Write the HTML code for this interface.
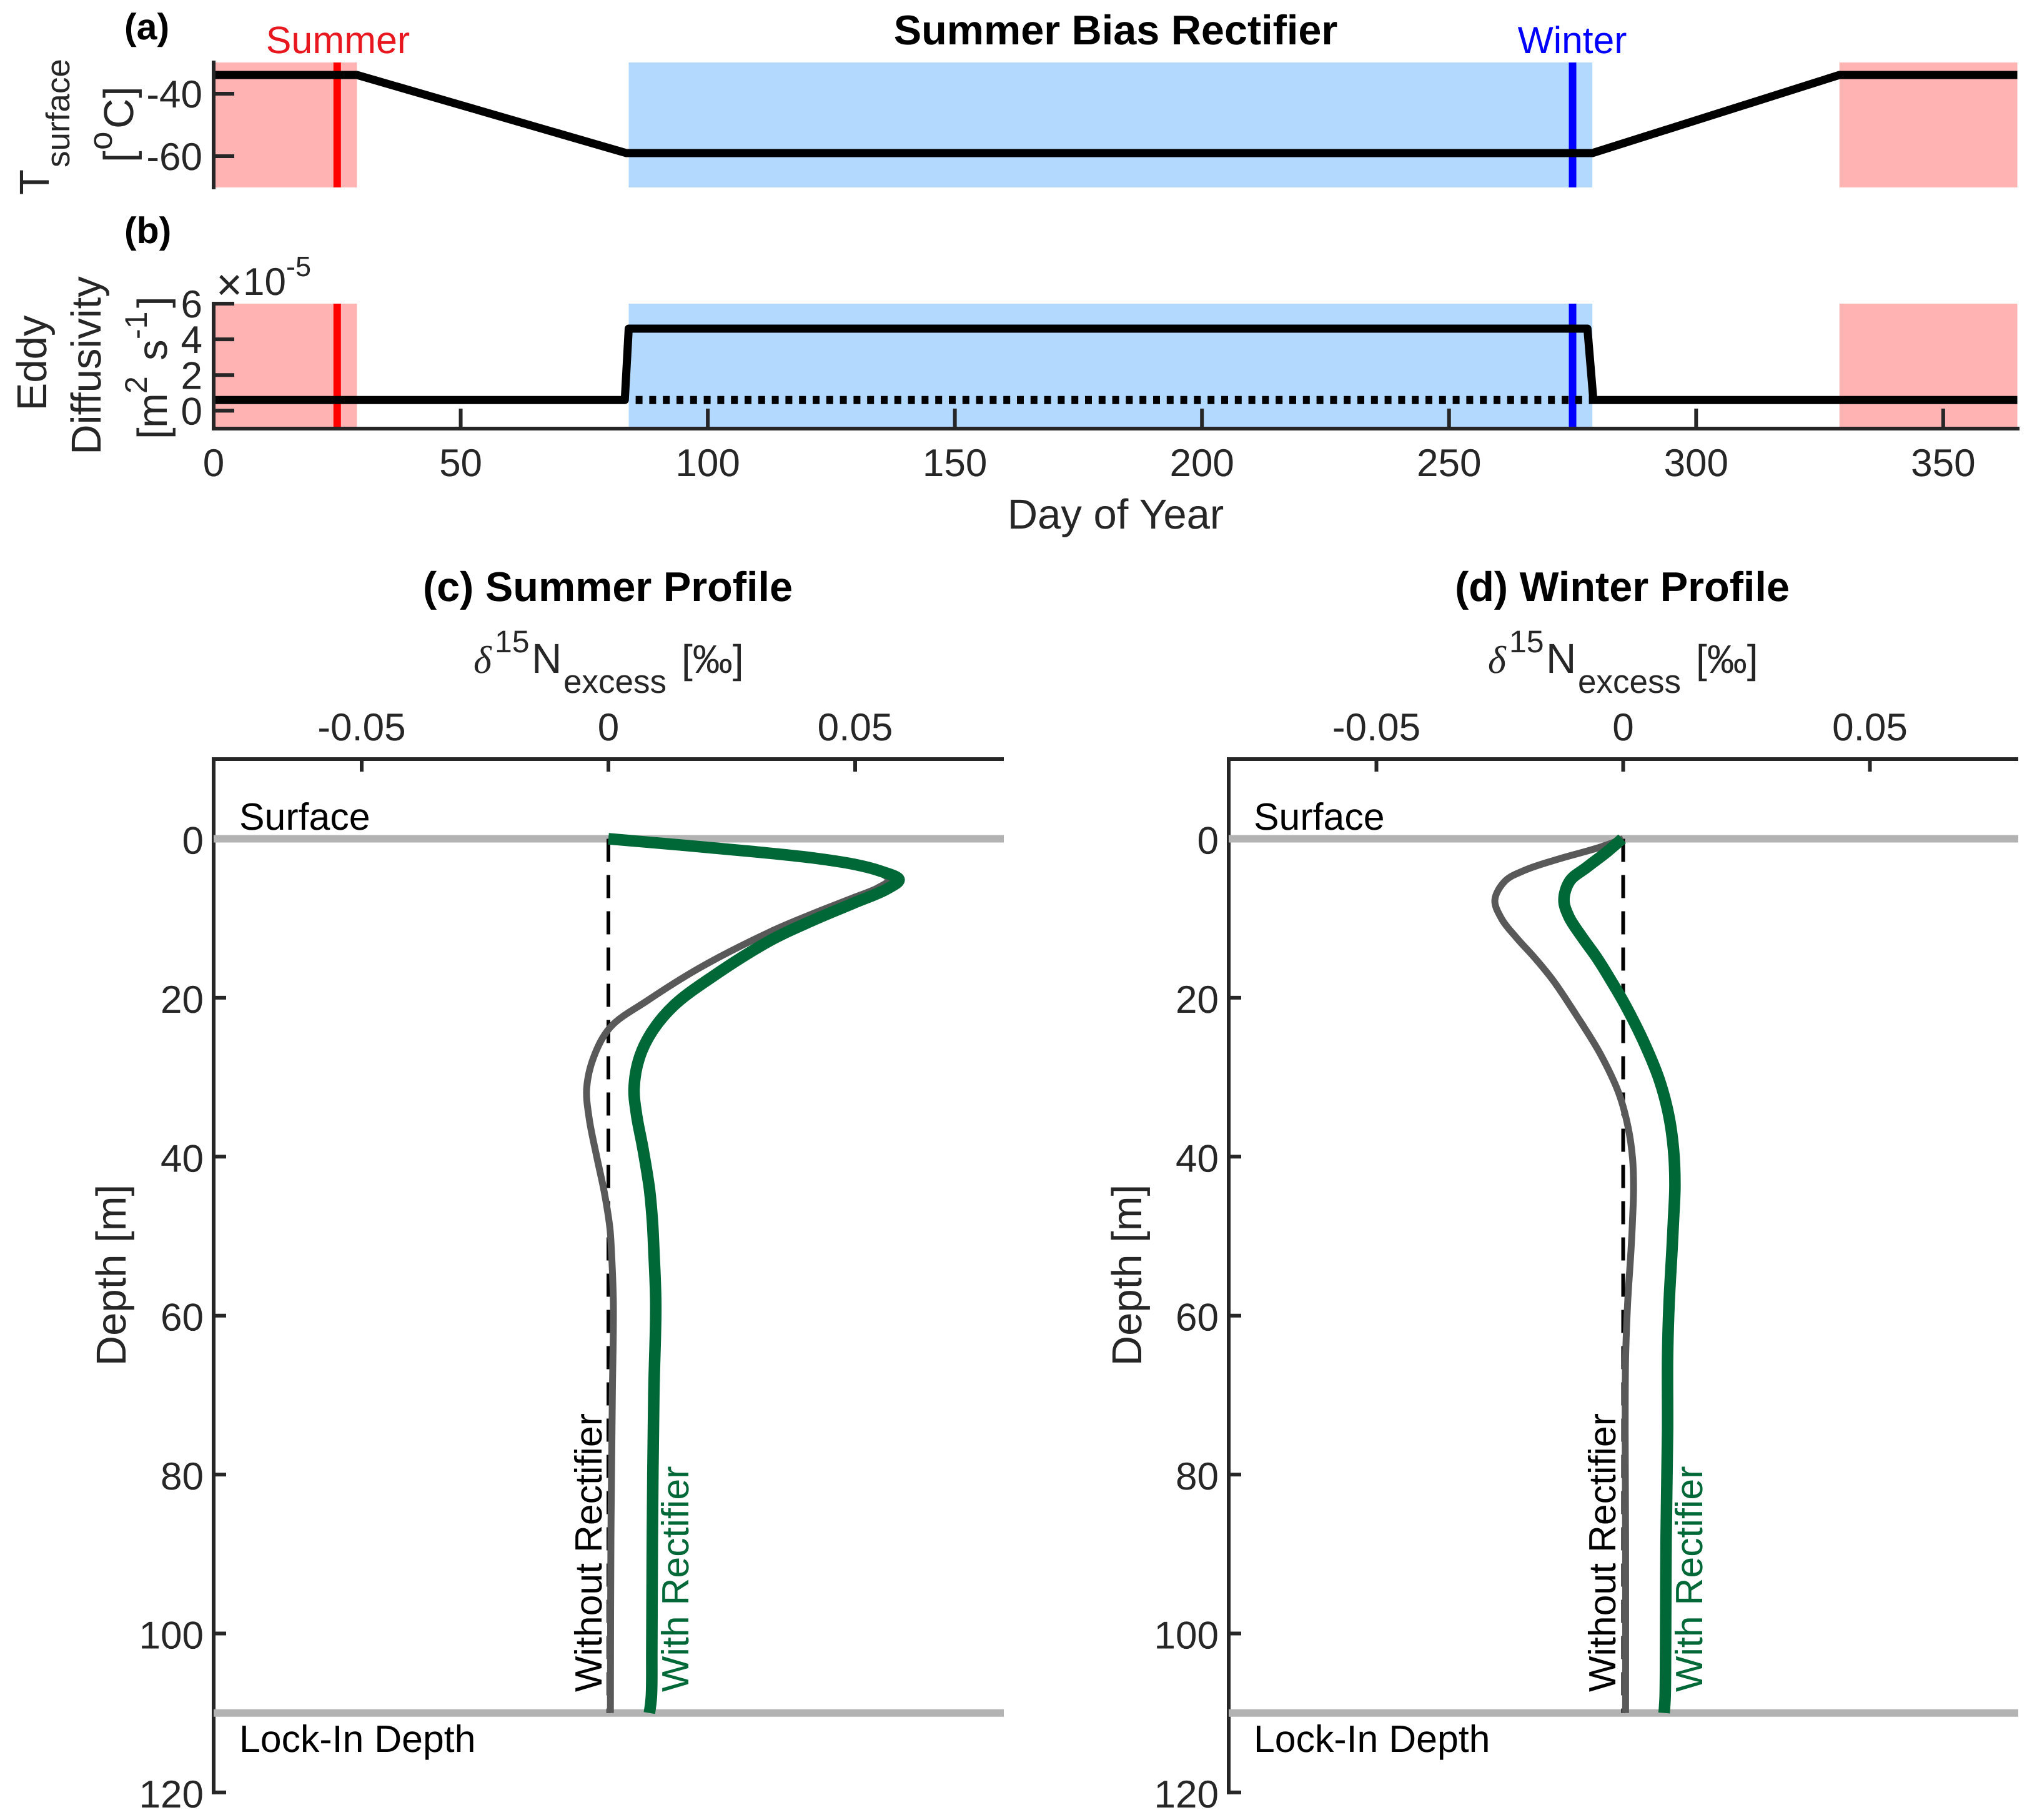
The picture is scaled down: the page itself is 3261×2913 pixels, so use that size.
<!DOCTYPE html>
<html lang="en">
<head>
<meta charset="utf-8">
<title>Summer Bias Rectifier</title>
<style>
html,body{margin:0;padding:0;background:#fff;width:3261px;height:2913px;overflow:hidden}
svg{display:block;position:absolute;left:0;top:0}
text{font-family:"Liberation Sans",Arial,sans-serif;fill:#262626;text-rendering:geometricPrecision}
.lab{font-size:67px}
.sub{font-size:53px}
.sup{font-size:50px}
.tick{font-size:62px}
.ann{font-size:60.8px;fill:#000}
.bold{font-weight:bold;fill:#000}
</style>
</head>
<body>
<svg id="chart" xmlns="http://www.w3.org/2000/svg" width="3261" height="2913" viewBox="0 0 3261 2913">
  <rect width="3261" height="2913" fill="#fff"/>
  <g id="a"></g>
  <g id="b"></g>
  <g id="c"></g>
  <g id="d"></g>

  <text class="bold" x="199" y="63" font-size="59">(a)</text>
  <text class="bold" x="199" y="389" font-size="59">(b)</text>
  <text class="bold" x="1786" y="71" font-size="66.6" text-anchor="middle">Summer Bias Rectifier</text>
  <text x="541" y="85" font-size="61" text-anchor="middle" style="fill:#e8161f">Summer</text>
  <text x="2517" y="85" font-size="60.5" text-anchor="middle" style="fill:#0000ff">Winter</text>

  <g>
    <text class="lab" transform="translate(78,312) rotate(-90)">T</text>
    <text class="sub" transform="translate(111,268) rotate(-90)">surface</text>
    <text class="lab" transform="translate(213,260) rotate(-90)">[</text>
    <text class="sub" transform="translate(179,240) rotate(-90)">o</text>
    <text class="lab" transform="translate(213,206) rotate(-90)">C</text>
    <text class="lab" transform="translate(213,157) rotate(-90)">]</text>
  </g>
  <g>
    <text class="lab" transform="translate(74,581) rotate(-90)" text-anchor="middle">Eddy</text>
    <text class="lab" transform="translate(161,585) rotate(-90)" text-anchor="middle">Diffusivity</text>
    <text class="lab" transform="translate(267,703) rotate(-90)">[</text>
    <text class="lab" transform="translate(267,685) rotate(-90)">m</text>
    <text class="sup" transform="translate(235,630) rotate(-90)">2</text>
    <text class="lab" transform="translate(267,577) rotate(-90)">s</text>
    <text class="sup" transform="translate(235,543) rotate(-90)">-1</text>
    <text class="lab" transform="translate(267,493) rotate(-90)">]</text>
  </g>
  <g>
    <text x="367" y="480" font-size="72" text-anchor="middle">×</text>
    <text x="389" y="472" font-size="62">10</text>
    <text x="458" y="442" font-size="45">-5</text>
  </g>
  <text class="lab" x="1786" y="846" text-anchor="middle">Day of Year</text>

  <text class="bold" x="973" y="962" font-size="66.6" text-anchor="middle">(c) Summer Profile</text>
  <text class="bold" x="2597" y="962" font-size="66.6" text-anchor="middle">(d) Winter Profile</text>

  <g>
    <text x="758" y="1077" font-size="62" font-style="italic" style="font-family:'Liberation Serif',serif">δ</text>
    <text class="sup" x="792" y="1044">15</text>
    <text class="lab" x="851" y="1077">N</text>
    <text class="sub" x="902" y="1109">excess</text>
    <text x="1091" y="1077" font-size="64">[‰]</text>
  </g>
  <g>
    <text x="2382" y="1077" font-size="62" font-style="italic" style="font-family:'Liberation Serif',serif">δ</text>
    <text class="sup" x="2416" y="1044">15</text>
    <text class="lab" x="2475" y="1077">N</text>
    <text class="sub" x="2526" y="1109">excess</text>
    <text x="2715" y="1077" font-size="64">[‰]</text>
  </g>

  <text class="lab" transform="translate(201,2041) rotate(-90)" text-anchor="middle">Depth [m]</text>
  <text class="lab" transform="translate(1827,2041) rotate(-90)" text-anchor="middle">Depth [m]</text>

  <text class="ann" x="383" y="1328">Surface</text>
  <text class="ann" x="2007" y="1328">Surface</text>
  <text class="ann" x="383" y="2804">Lock-In Depth</text>
  <text class="ann" x="2007" y="2804">Lock-In Depth</text>
  <text class="ann" transform="translate(963,2708) rotate(-90)">Without Rectifier</text>
  <text class="ann" transform="translate(1102,2708) rotate(-90)" style="fill:#006837">With Rectifier</text>
  <text class="ann" transform="translate(2586,2708) rotate(-90)">Without Rectifier</text>
  <text class="ann" transform="translate(2725,2708) rotate(-90)" style="fill:#006837">With Rectifier</text>
</svg>
<script>
// ---- Seasonal forcing data ----
const summerDay = 25;
const winterDay = 275;
const summerBands = [[0, 29], [329, 365]];
const winterBands = [[84, 279]];
const tempDays = [0, 29, 83.5, 279, 329, 365];
const tempValues = [-34, -34, -59, -59, -34, -34];
const diffDays = [0, 83.2, 84, 278, 279.2, 365];
const diffValues = [0.6, 0.6, 4.6, 4.6, 0.6, 0.6];
const dottedDays = [85.4, 279];
const dottedValues = [0.6, 0.6];
const dayTicks = [0, 50, 100, 150, 200, 250, 300, 350];
const tempTicks = [-40, -60];
const diffTicks = [0, 2, 4, 6];

// ---- Depth profile data ----
const depthTicks = [0, 20, 40, 60, 80, 100, 120];
const excessTicks = [-0.05, 0, 0.05];
const excessTickLabels = ['-0.05', '0', '0.05'];
const markerDepths = [0, 110];

const cGreenDepth = [0, 1.57, 2.4, 3.2, 4, 5.15, 6.3, 8.1, 10.3, 12.8, 17.3, 20.9, 24.2, 27.5, 31.4, 34.7, 39, 44, 48, 51.7, 58.5, 70, 88.3, 102, 108, 110];
const cGreenValue = [0, .0286, .0413, .0497, .0548, .0589, .0565, .0497, .0413, .0328, .0212, .0134, .0089, .0063, .0052, .0057, .0070, .0083, .0089, .0092, .0096, .0092, .0089, .0088, .0087, .0083];
const cGrayDepth = [0, 1.57, 2.4, 3.2, 4.1, 5.15, 6.2, 7.4, 9.45, 11.7, 16.2, 20.4, 23.7, 27.5, 31.4, 35.2, 40.2, 44.6, 49, 51.7, 58.5, 70, 88.3, 110];
const cGrayValue = [0, .0286, .0413, .0497, .0545, .0568, .0545, .0497, .0413, .0328, .0186, .0078, .0004, -.0030, -.0044, -.0039, -.0023, -.0008, .0003, .0006, .0010, .0008, .0005, .0004];

const dGreenDepth = [0, 1.6, 3.6, 5.3, 7.7, 9.8, 12.4, 15, 17.9, 20.9, 25.6, 30.3, 34.7, 39.1, 43.5, 47.9, 51.7, 58.5, 65.3, 74.5, 88.3, 102, 108, 110];
const dGreenValue = [-.0002, -.0032, -.0074, -.0108, -.0120, -.0110, -.0083, -.0053, -.0024, .0004, .0042, .0073, .0092, .0102, .0105, .0102, .0099, .0093, .0090, .0090, .0087, .0086, .0085, .0083];
const dGrayDepth = [0, 1.1, 2.6, 3.9, 5.3, 7.7, 10, 12.4, 15, 17.9, 22, 27, 32, 36.3, 40.2, 44.1, 47.9, 51.7, 58.5, 65.3, 74.5, 88.3, 110];
const dGrayValue = [0, -.0049, -.0134, -.0197, -.0239, -.0260, -.0247, -.0217, -.0179, -.0141, -.0097, -.0047, -.0009, .0010, .0019, .0021, .0019, .0016, .0009, .0005, .0004, .0005, .0005];

// ---- Axis functions ----
const NS = 'http://www.w3.org/2000/svg';
const INK = '#262626';
const xDay = v => 342 + v * 7.911;
const yTemp = v => 100 + (-30 - v) * 5;
const yDiff = v => 686 - (v + 1) * (200 / 7);
const yDepth = v => 1342.5 + v * 12.72;
const xExcessC = v => 974 + v * 7900;
const xExcessD = v => 2598.5 + v * 7900;

function make(tag, attrs, parent) {
  const el = document.createElementNS(NS, tag);
  for (const k in attrs) el.setAttribute(k, attrs[k]);
  parent.appendChild(el);
  return el;
}
function polyPath(xs, ys) {
  return xs.map((x, i) => (i ? 'L' : 'M') + x.toFixed(1) + ' ' + ys[i].toFixed(1)).join('');
}
// Centripetal Catmull-Rom through the data points
function smoothPath(xs, ys) {
  const n = xs.length;
  const dist = (i, j) => Math.sqrt(Math.hypot(xs[i] - xs[j], ys[i] - ys[j]));
  let d = 'M' + xs[0].toFixed(1) + ' ' + ys[0].toFixed(1);
  for (let i = 0; i < n - 1; i++) {
    const a = Math.max(i - 1, 0), b = Math.min(i + 2, n - 1);
    const d1 = dist(a, i), d2 = dist(i, i + 1), d3 = dist(i + 1, b);
    let c1x = xs[i], c1y = ys[i], c2x = xs[i + 1], c2y = ys[i + 1];
    if (d1 > 1e-6) {
      const k = 3 * d1 * (d1 + d2), m = 2 * d1 * d1 + 3 * d1 * d2 + d2 * d2;
      c1x = (d1 * d1 * xs[i + 1] - d2 * d2 * xs[a] + m * xs[i]) / k;
      c1y = (d1 * d1 * ys[i + 1] - d2 * d2 * ys[a] + m * ys[i]) / k;
    }
    if (d3 > 1e-6) {
      const k = 3 * d3 * (d3 + d2), m = 2 * d3 * d3 + 3 * d3 * d2 + d2 * d2;
      c2x = (d3 * d3 * xs[i] - d2 * d2 * xs[b] + m * xs[i + 1]) / k;
      c2y = (d3 * d3 * ys[i] - d2 * d2 * ys[b] + m * ys[i + 1]) / k;
    }
    d += 'C' + c1x.toFixed(1) + ' ' + c1y.toFixed(1) + ' ' + c2x.toFixed(1) + ' ' + c2y.toFixed(1) + ' ' + xs[i + 1].toFixed(1) + ' ' + ys[i + 1].toFixed(1);
  }
  return d;
}
function drawSeason(g, top, bottom) {
  summerBands.forEach(r => {
    const el = make('rect', {x: xDay(r[0]), y: top, width: xDay(r[1]) - xDay(r[0]), height: bottom - top, fill: '#ffb3b3'}, g);
    
    
  });
  winterBands.forEach(r => {
    const el = make('rect', {x: xDay(r[0]), y: top, width: xDay(r[1]) - xDay(r[0]), height: bottom - top, fill: '#b3d9ff'}, g);
    
    
  });
  const s = make('line', {x1: xDay(summerDay), x2: xDay(summerDay), y1: top, y2: bottom, stroke: '#ff0000', 'stroke-width': 12}, g);
  
  
  const w = make('line', {x1: xDay(winterDay), x2: xDay(winterDay), y1: top, y2: bottom, stroke: '#0000ff', 'stroke-width': 12}, g);
  
  
}
function drawYTicks(g, values, yFn, left, len, labelX, labelDy, fmt) {
  values.forEach(v => {
    const t = make('line', {x1: left, x2: left + len, y1: yFn(v), y2: yFn(v), stroke: INK, 'stroke-width': 6}, g);
    
    
    const l = make('text', {x: labelX, y: yFn(v) + labelDy, 'text-anchor': 'end', class: 'tick'}, g);
    l.textContent = fmt ? fmt(v) : String(v);
    
    
  });
}

// ---- Panel a ----
const gA = document.getElementById('a');
drawSeason(gA, 100, 300);
drawYTicks(gA, tempTicks, yTemp, 342, 33, 324, 22);
const tempLine = make('path', {d: polyPath(tempDays.map(xDay), tempValues.map(yTemp)), fill: 'none', stroke: '#000', 'stroke-width': 13, 'stroke-linejoin': 'round'}, gA);


const axA = make('line', {x1: 342, x2: 342, y1: 97, y2: 303, stroke: INK, 'stroke-width': 6}, gA);



// ---- Panel b ----
const gB = document.getElementById('b');
drawSeason(gB, 486, 686);
drawYTicks(gB, diffTicks, yDiff, 342, 33, 324, 22);
dayTicks.forEach(v => {
  const t = make('line', {x1: xDay(v), x2: xDay(v), y1: 654, y2: 686, stroke: INK, 'stroke-width': 6}, gB);
  
  
  const l = make('text', {x: xDay(v), y: 762, 'text-anchor': 'middle', class: 'tick'}, gB);
  l.textContent = String(v);
  
  
});
const dotted = make('path', {d: polyPath(dottedDays.map(xDay), dottedValues.map(yDiff)), fill: 'none', stroke: '#000', 'stroke-width': 13, 'stroke-dasharray': '11 10.8'}, gB);


const diffLine = make('path', {d: polyPath(diffDays.map(xDay), diffValues.map(yDiff)), fill: 'none', stroke: '#000', 'stroke-width': 13, 'stroke-linejoin': 'round'}, gB);


const axBy = make('line', {x1: 342, x2: 342, y1: 483, y2: 689, stroke: INK, 'stroke-width': 6}, gB);


const axBx = make('line', {x1: 339, x2: 3233, y1: 686, y2: 686, stroke: INK, 'stroke-width': 6}, gB);



// ---- Panels c and d ----
function drawProfile(id, xFn, left, right, labelRight, grayD, grayV, greenD, greenV) {
  const g = document.getElementById(id);
  const yLeft = make('line', {x1: left, x2: left, y1: 1212, y2: 2872, stroke: INK, 'stroke-width': 6}, g);
  
  
  const xTop = make('line', {x1: left - 3, x2: right, y1: 1215, y2: 1215, stroke: INK, 'stroke-width': 6}, g);
  
  
  drawYTicks(g, depthTicks, yDepth, left, 20, labelRight, 24);
  excessTicks.forEach((v, i) => {
    const t = make('line', {x1: xFn(v), x2: xFn(v), y1: 1215, y2: 1235, stroke: INK, 'stroke-width': 6}, g);
    
    
    const l = make('text', {x: xFn(v), y: 1185, 'text-anchor': 'middle', class: 'tick'}, g);
    l.textContent = excessTickLabels[i];
    
    
  });
  markerDepths.forEach(v => {
    const m = make('line', {x1: left, x2: right, y1: yDepth(v), y2: yDepth(v), stroke: '#b3b3b3', 'stroke-width': 12}, g);
    
    
  });
  const zero = make('line', {x1: xFn(0), x2: xFn(0), y1: yDepth(0), y2: yDepth(110), stroke: '#000', 'stroke-width': 6, 'stroke-dasharray': '37 21'}, g);
  
  
  const gray = make('path', {d: smoothPath(grayV.map(xFn), grayD.map(yDepth)), fill: 'none', stroke: '#595959', 'stroke-width': 11, 'stroke-linejoin': 'round'}, g);
  
  
  const green = make('path', {d: smoothPath(greenV.map(xFn), greenD.map(yDepth)), fill: 'none', stroke: '#006837', 'stroke-width': 18.5, 'stroke-linejoin': 'round'}, g);
  
  
}
drawProfile('c', xExcessC, 342, 1607, 326, cGrayDepth, cGrayValue, cGreenDepth, cGreenValue);
drawProfile('d', xExcessD, 1967, 3231, 1951, dGrayDepth, dGrayValue, dGreenDepth, dGreenValue);
</script>
</body>
</html>
